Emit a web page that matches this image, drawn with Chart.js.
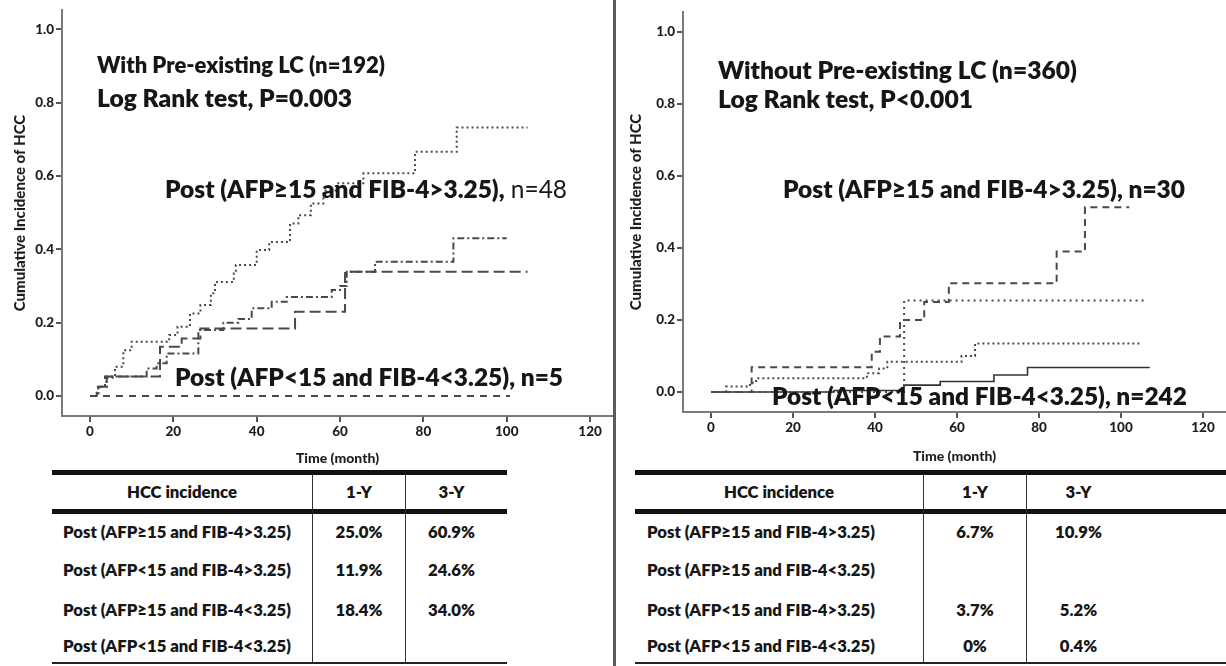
<!DOCTYPE html>
<html lang="en">
<head>
<meta charset="utf-8"/>
<title>Cumulative incidence of HCC</title>
<style>
  body, html {
    margin: 0;
    padding: 0;
    background: #fff;
  }
  body {
    position: relative;
    width: 1226px;
    height: 666px;
    overflow: hidden;
    font-family: 'Lato', sans-serif;
    color: #161616;
  }
  canvas {
    position: absolute;
    top: 0;
  }
  .note {
    position: absolute;
    font-weight: 800;
    white-space: nowrap;
    line-height: 1;
    transform: translateY(-50%);
  }
  .note .thin {
    font-weight: normal;
  }
  .sep {
    position: absolute;
    left: 613px;
    top: 0;
    width: 3px;
    height: 666px;
    background: #5a5a5a;
  }
  .tbl {
    position: absolute;
    top: 470px;
    display: grid;
    border-top: 5px solid #111;
    border-bottom: 2px solid #222;
    font-weight: 800;
  }
  .tbl div {
    box-sizing: border-box;
    display: flex;
    align-items: center;
    justify-content: center;
    white-space: nowrap;
  }
  .tbl div.head {
    border-bottom: 5px solid #111;
  }
  .tbl div.lab {
    justify-content: flex-start;
  }
  .tbl div.col {
    border-left: 1px solid #333;
  }
</style>
</head>
<body>
<canvas id="leftChart" width="614" height="468" style="left:0"></canvas>
<canvas id="rightChart" width="610" height="466" style="left:616px"></canvas>
<div class="sep"></div>
<div id="notes"></div>
<div class="tbl" id="leftTable"></div>
<div class="tbl" id="rightTable"></div>

<script src="https://cdn.jsdelivr.net/npm/chart.js"></script>
<script>
  // --- data (months, cumulative incidence) ---
  const xTicks = [0, 20, 40, 60, 80, 100, 120];
  const yTicks = [0, 0.2, 0.4, 0.6, 0.8, 1.0];

  // With pre-existing LC
  const lcHighT = [0, 2, 4, 6, 8, 10, 19, 21, 24, 26.5, 29, 30, 34.5, 35, 40, 43, 48, 50, 53, 56, 59, 65.6, 78, 88, 105];
  const lcHighV = [0, 0.025, 0.05, 0.08, 0.125, 0.148, 0.166, 0.189, 0.225, 0.248, 0.28, 0.311, 0.334, 0.357, 0.398, 0.42, 0.47, 0.493, 0.525, 0.56, 0.58, 0.607, 0.666, 0.732, 0.732];
  const lcMidAT = [0, 2, 4, 13.6, 16, 18.4, 26, 32, 35.6, 38.8, 43.6, 47.2, 58, 60, 61.6, 68.4, 87.2, 100];
  const lcMidAV = [0, 0.025, 0.053, 0.075, 0.089, 0.116, 0.18, 0.2, 0.21, 0.239, 0.257, 0.27, 0.289, 0.3, 0.339, 0.366, 0.43, 0.43];
  const lcMidBT = [0, 1.6, 3.6, 16.8, 22, 26.5, 49.2, 61.2, 105];
  const lcMidBV = [0, 0.025, 0.053, 0.134, 0.157, 0.184, 0.23, 0.339, 0.339];
  const lcLowT = [0, 100.8];
  const lcLowV = [0, 0];

  // Without pre-existing LC
  const noHighT = [0, 9.9, 39.2, 41.2, 46.1, 52, 58, 84.3, 91.2, 102];
  const noHighV = [0, 0.069, 0.112, 0.154, 0.2, 0.25, 0.302, 0.39, 0.513, 0.513];
  const noMidAT = [0, 47.1, 106];
  const noMidAV = [0, 0.254, 0.254];
  const noMidBT = [0, 3.7, 9.5, 11, 38, 41, 43, 61.1, 64.4, 105];
  const noMidBV = [0, 0.015, 0.026, 0.038, 0.052, 0.065, 0.084, 0.1, 0.135, 0.135];
  const noLowT = [0, 30, 47, 55.9, 69, 77.2, 107];
  const noLowV = [0, 0.004, 0.019, 0.029, 0.047, 0.068, 0.068];

  // tables
  const leftRows = ['Post (AFP≥15 and FIB-4>3.25)', 'Post (AFP<15 and FIB-4>3.25)', 'Post (AFP≥15 and FIB-4<3.25)', 'Post (AFP<15 and FIB-4<3.25)'];
  const leftOneY = ['25.0%', '11.9%', '18.4%', ''];
  const leftThreeY = ['60.9%', '24.6%', '34.0%', ''];
  const rightRows = ['Post (AFP≥15 and FIB-4>3.25)', 'Post (AFP≥15 and FIB-4<3.25)', 'Post (AFP<15 and FIB-4>3.25)', 'Post (AFP<15 and FIB-4<3.25)'];
  const rightOneY = ['6.7%', '', '3.7%', '0%'];
  const rightThreeY = ['10.9%', '', '5.2%', '0.4%'];
  const tableHead = ['HCC incidence', '1-Y', '3-Y'];

  const FONT = 'Lato';

  function pts(t, v) {
    return t.map((x, i) => ({ x: x, y: v[i] }));
  }

  function line(t, v, dash, width, color) {
    return {
      data: pts(t, v),
      borderColor: color || '#4a4a4a',
      borderWidth: width || 2,
      borderDash: dash,
      stepped: 'before',
      pointRadius: 0,
      fill: false
    };
  }

  function makeChart(id, datasets, box) {
    const tickFont = { family: FONT, weight: '900', size: 13.5 };
    const titleFont = { family: FONT, weight: '900', size: 14 };
    return new Chart(document.getElementById(id), {
      type: 'line',
      data: { datasets: datasets },
      options: {
        responsive: false,
        animation: false,
        events: [],
        layout: { padding: { top: box.top, right: box.right, left: 0, bottom: 0 } },
        plugins: { legend: { display: false }, tooltip: { enabled: false } },
        scales: {
          x: {
            type: 'linear',
            min: box.xmin,
            max: box.xmax,
            afterBuildTicks: s => { s.ticks = xTicks.map(v => ({ value: v })); },
            afterFit: s => { s.height = box.xh; },
            grid: { drawOnChartArea: false, drawTicks: true, tickLength: 6, color: '#555', lineWidth: 2 },
            border: { display: true, color: '#7a7a7a', width: 2 },
            ticks: { font: tickFont, color: '#1e1e1e', padding: 2, maxRotation: 0 },
            title: { display: true, text: 'Time (month)', font: titleFont, color: '#1e1e1e', padding: { top: 0, bottom: 1 } }
          },
          y: {
            min: box.ymin,
            max: box.ymax,
            afterBuildTicks: s => { s.ticks = yTicks.map(v => ({ value: v })); },
            afterFit: s => { s.width = box.yw; },
            grid: { drawOnChartArea: false, drawTicks: true, tickLength: 6, color: '#555', lineWidth: 2 },
            border: { display: true, color: '#7a7a7a', width: 2 },
            ticks: { font: tickFont, color: '#1e1e1e', padding: 2, callback: v => v.toFixed(1) },
            title: { display: true, text: 'Cumulative Incidence of HCC', font: { family: FONT, weight: '900', size: 15 }, color: '#1e1e1e', padding: { top: 11, bottom: 0 } }
          }
        }
      }
    });
  }

  makeChart('leftChart', [
    line(lcHighT, lcHighV, [2, 3]),
    line(lcMidAT, lcMidAV, [7, 3, 2, 3]),
    line(lcMidBT, lcMidBV, [11, 5]),
    line(lcLowT, lcLowV, [7, 6])
  ], { top: 10, right: 1, xh: 52, yw: 62, xmin: -6.72, xmax: 125.5, ymin: -0.0545, ymax: 1.052 });

  makeChart('rightChart', [
    line(noHighT, noHighV, [7, 5]),
    line(noMidAT, noMidAV, [2, 4]),
    line(noMidBT, noMidBV, [2, 3]),
    line(noLowT, noLowV, [], 1.6, '#333')
  ], { top: 12, right: 0, xh: 54, yw: 67, xmin: -6.83, xmax: 125.6, ymin: -0.0556, ymax: 1.0556 });

  // --- text inside the plots ---
  const notes = [
    { html: 'With Pre-existing LC (n=192)', x: 97, cy: 65, w: 288 },
    { html: 'Log Rank test, P=0.003', x: 97, cy: 98, w: 255 },
    { html: 'Post (AFP≥15 and FIB-4&gt;3.25),<span class="thin"> n=48</span>', x: 165, cy: 189, w: 402 },
    { html: 'Post (AFP&lt;15 and FIB-4&lt;3.25), n=5', x: 175, cy: 377, w: 388 },
    { html: 'Without Pre-existing LC (n=360)', x: 718, cy: 70, w: 359 },
    { html: 'Log Rank test, P&lt;0.001', x: 718, cy: 99, w: 255 },
    { html: 'Post (AFP≥15 and FIB-4&gt;3.25), n=30', x: 783, cy: 189, w: 402 },
    { html: 'Post (AFP&lt;15 and FIB-4&lt;3.25), n=242', x: 772, cy: 396, w: 415 }
  ];
  const holder = document.getElementById('notes');
  notes.forEach(n => {
    const el = document.createElement('div');
    el.className = 'note';
    el.innerHTML = n.html;
    el.style.left = n.x + 'px';
    el.style.top = n.cy + 'px';
    el.style.fontSize = '20px';
    holder.appendChild(el);
    const w = el.getBoundingClientRect().width;
    el.style.fontSize = (20 * n.w / w).toFixed(2) + 'px';
  });

  // --- tables ---
  function textSize(str, target) {
    const ctx = document.createElement('canvas').getContext('2d');
    ctx.font = '800 20px ' + FONT;
    return 20 * target / ctx.measureText(str).width;
  }

  function buildTable(id, left, cols, pad, rows, oneY, threeY, lastPad) {
    const el = document.getElementById(id);
    el.style.left = left + 'px';
    el.style.gridTemplateColumns = cols.map(c => c + 'px').join(' ');
    el.style.gridTemplateRows = '39px 36px 40px 40px 32px';
    el.style.fontSize = textSize(rows[0], 228).toFixed(2) + 'px';
    const cells = [];
    tableHead.forEach((h, i) => cells.push({ t: h, cls: 'head' + (i ? ' col' : ''), last: i === 2 }));
    rows.forEach((r, i) => {
      cells.push({ t: r, cls: 'lab' });
      cells.push({ t: oneY[i], cls: 'col' });
      cells.push({ t: threeY[i], cls: 'col', last: true });
    });
    cells.forEach(c => {
      const d = document.createElement('div');
      d.className = c.cls;
      d.textContent = c.t;
      if (c.cls === 'lab') d.style.paddingLeft = pad + 'px';
      if (c.last) d.style.paddingRight = lastPad + 'px';
      el.appendChild(d);
    });
  }

  buildTable('leftTable', 52, [260, 93, 102], 11, leftRows, leftOneY, leftThreeY, 10);
  buildTable('rightTable', 635, [288, 103, 200], 12, rightRows, rightOneY, rightThreeY, 96);
</script>
</body>
</html>
